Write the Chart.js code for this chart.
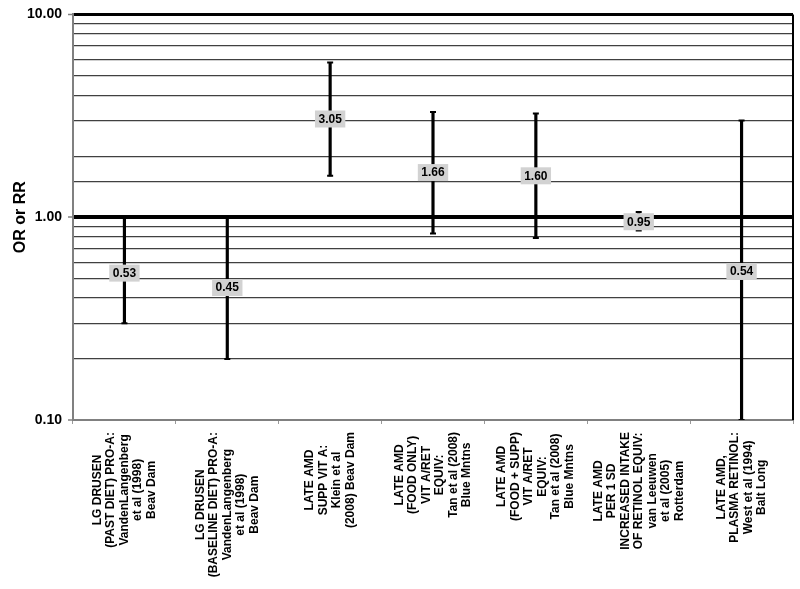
<!DOCTYPE html>
<html>
<head>
<meta charset="utf-8">
<script src="https://cdn.jsdelivr.net/npm/chart.js@4/dist/chart.umd.min.js"></script>
<style>
  html, body { margin: 0; padding: 0; background: #fff; }
  #wrap { width: 800px; height: 589px; }
</style>
</head>
<body>
<div id="wrap"><canvas id="myChart"></canvas></div>
<script>
// data
const categories = [
  ['LG DRUSEN', '(PAST DIET) PRO-A:', 'VandenLangenberg', 'et al (1998)', 'Beav Dam'],
  ['LG DRUSEN', '(BASELINE DIET) PRO-A:', 'VandenLangenberg', 'et al (1998)', 'Beav Dam'],
  ['LATE AMD', 'SUPP VIT A:', 'Klein et al', '(2008) Beav Dam'],
  ['LATE AMD', '(FOOD ONLY)', 'VIT A/RET', 'EQUIV:', 'Tan et al (2008)', 'Blue Mntns'],
  ['LATE AMD', '(FOOD + SUPP)', 'VIT A/RET', 'EQUIV:', 'Tan et al (2008)', 'Blue Mntns'],
  ['LATE AMD', 'PER 1 SD', 'INCREASED INTAKE', 'OF RETINOL EQUIV:', 'van Leeuwen', 'et al (2005)', 'Rotterdam'],
  ['LATE AMD,', 'PLASMA RETINOL:', 'West et al (1994)', 'Balt Long'],
]
const estimates = [0.53, 0.45, 3.05, 1.66, 1.60, 0.95, 0.54]
const lower = [0.30, 0.20, 1.60, 0.83, 0.79, 0.86, 0.10]
const upper = [1.00, 1.00, 5.80, 3.30, 3.25, 1.06, 3.00]
const yTickLabels = [0.1, 1, 10]

const isMajor = v => yTickLabels.some(t => Math.abs(Math.log10(v) - Math.log10(t)) < 1e-6)

const valueLabels = {
  id: 'valueLabels',
  afterDatasetsDraw(chart) {
    const {ctx, scales: {x, y}} = chart
    ctx.save()
    ctx.font = 'bold 12px "Liberation Sans", Arial, sans-serif'
    ctx.textAlign = 'center'
    ctx.textBaseline = 'middle'
    estimates.forEach((v, i) => {
      const px = x.getPixelForValue(i)
      const py = y.getPixelForValue(v)
      const txt = v.toFixed(2)
      const w = ctx.measureText(txt).width + 7
      const h = 17
      ctx.fillStyle = '#d2d2d2'
      ctx.fillRect(px - w / 2, py - h / 2, w, h)
      ctx.fillStyle = '#000'
      ctx.fillText(txt, px, py + 0.5)
    })
    ctx.restore()
  },
}

const frameAndLabels = {
  id: 'frameAndLabels',
  afterDraw(chart) {
    const {ctx, chartArea, scales: {x}} = chart
    ctx.save()
    // right border
    ctx.strokeStyle = '#000'
    ctx.lineWidth = 2
    ctx.beginPath()
    ctx.moveTo(chartArea.right, chartArea.top)
    ctx.lineTo(chartArea.right, chartArea.bottom)
    ctx.stroke()
    // rotated, centred category labels
    ctx.font = 'bold 12px "Liberation Sans", Arial, sans-serif'
    ctx.fillStyle = '#000'
    ctx.textAlign = 'center'
    ctx.textBaseline = 'middle'
    const lh = 13.5
    categories.forEach((lines, i) => {
      const cx = x.getPixelForValue(i)
      const maxW = Math.max(...lines.map(l => ctx.measureText(l).width))
      ctx.save()
      ctx.translate(cx, chartArea.bottom + 12)
      ctx.rotate(-Math.PI / 2)
      lines.forEach((l, j) => {
        ctx.fillText(l, -maxW / 2, (j - (lines.length - 1) / 2) * lh)
      })
      ctx.restore()
    })
    ctx.restore()
  },
}

new Chart('myChart', {
  data: {
    labels: categories.map((c, i) => String(i)),
    datasets: [
      {
        type: 'bar',
        data: lower.map((l, i) => [l, upper[i]]),
        backgroundColor: '#000',
        barThickness: 2.5,
      },
      {
        type: 'line',
        data: upper,
        showLine: false,
        pointStyle: 'line',
        pointRadius: 3,
        pointBorderWidth: 2,
        borderColor: '#000',
      },
      {
        type: 'line',
        data: lower,
        showLine: false,
        pointStyle: 'line',
        pointRadius: 3,
        pointBorderWidth: 2,
        borderColor: '#000',
      },
    ],
  },
  options: {
    responsive: true,
    maintainAspectRatio: false,
    animation: false,
    events: [],
    layout: {padding: {top: 10, right: 7, left: 0, bottom: 0}},
    plugins: {legend: {display: false}, tooltip: {enabled: false}},
    scales: {
      x: {
        ticks: {display: false},
        grid: {drawOnChartArea: false, tickLength: 4, color: '#999', lineWidth: 1},
        border: {color: '#808080', width: 2},
        afterFit: s => { s.height = 169 },
      },
      y: {
        type: 'logarithmic',
        min: 0.1,
        max: 10,
        title: {
          display: true,
          text: 'OR or RR',
          color: '#000',
          font: {family: '"Liberation Sans", Arial, sans-serif', size: 16, weight: 'bold'},
          padding: {top: 11, bottom: 4},
        },
        ticks: {
          color: '#000',
          font: {family: '"Liberation Sans", Arial, sans-serif', size: 14, weight: 'bold'},
          padding: 6,
          autoSkip: false,
          callback: v => isMajor(v) ? v.toFixed(2) : '',
        },
        grid: {
          tickLength: 5,
          color: c => {
            const v = c.tick.value
            return isMajor(v) ? '#000' : '#404040'
          },
          lineWidth: c => {
            const v = c.tick.value
            if (Math.abs(v - 0.1) < 1e-9) return 0
            if (Math.abs(v - 1) < 1e-9) return 4
            if (Math.abs(v - 10) < 1e-9) return 3
            return 1.2
          },
          tickColor: c => isMajor(c.tick.value) ? '#808080' : 'rgba(0,0,0,0)',
          tickWidth: 1.5,
        },
        border: {color: '#808080', width: 2},
        afterFit: s => { s.width = 73 },
      },
    },
  },
  plugins: [valueLabels, frameAndLabels],
})
</script>
</body>
</html>
